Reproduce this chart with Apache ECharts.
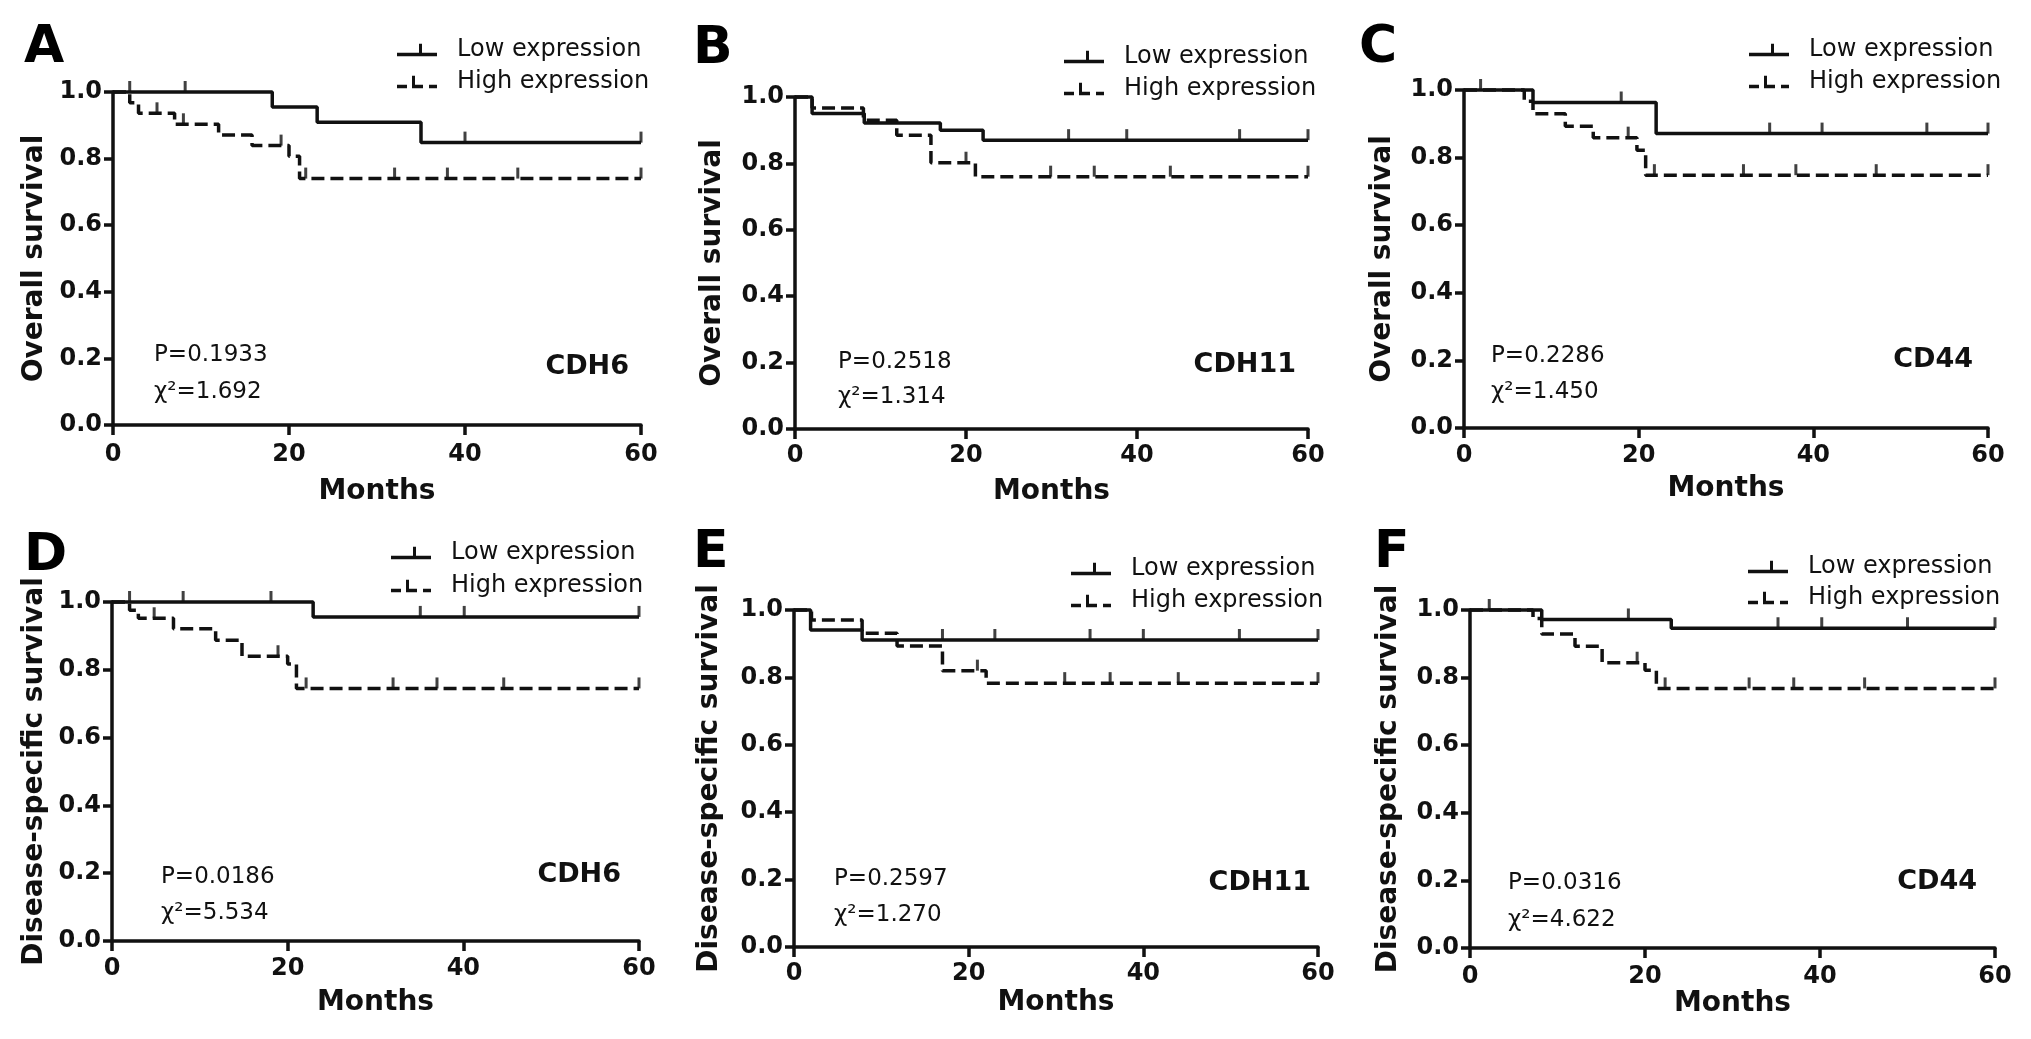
<!DOCTYPE html>
<html><head><meta charset="utf-8">
<script src="https://cdn.jsdelivr.net/npm/echarts@6/dist/echarts.min.js"></script>
<style>html,body{margin:0;padding:0;background:#fff}#chart{width:2031px;height:1039px}</style>
</head><body><div id="chart"></div>
<script>
// ---------- DATA ----------
const panelLetters = ['A', 'B', 'C', 'D', 'E', 'F'];
const geneNames = ['CDH6', 'CDH11', 'CD44', 'CDH6', 'CDH11', 'CD44'];
const yAxisTitles = ['Overall survival', 'Overall survival', 'Overall survival',
  'Disease-specific survival', 'Disease-specific survival', 'Disease-specific survival'];
const xAxisTitle = 'Months';
const pTexts = ['P=0.1933', 'P=0.2518', 'P=0.2286', 'P=0.0186', 'P=0.2597', 'P=0.0316'];
const chiTexts = ['χ²=1.692', 'χ²=1.314', 'χ²=1.450', 'χ²=5.534', 'χ²=1.270', 'χ²=4.622'];
const seriesNames = ['Low expression', 'High expression'];
const xTicks = [0, 20, 40, 60];
const yTicks = [0, 0.2, 0.4, 0.6, 0.8, 1.0];

// Kaplan-Meier curves: [month, survival] at each step
const lowA = [[0, 1], [18.1, 0.955], [23.2, 0.909], [35, 0.848], [60, 0.848]];
const highA = [[0, 1], [1.9, 0.968], [2.9, 0.936], [7, 0.903], [12, 0.871], [15.8, 0.839], [20, 0.807], [21.2, 0.74], [60, 0.74]];
const lowCensA = [1.9, 8.2, 40, 60];
const highCensA = [5, 8, 19.1, 21.9, 32, 38, 46, 60];

const lowB = [[0, 1], [2, 0.95], [8.1, 0.922], [17, 0.90], [22, 0.87], [60, 0.87]];
const highB = [[0, 1], [2, 0.967], [8, 0.93], [11.9, 0.885], [15.9, 0.802], [21.1, 0.76], [60, 0.76]];
const lowCensB = [32, 38.8, 52, 60];
const highCensB = [20, 29.9, 35, 43.9, 60];

const lowC = [[0, 1], [7.9, 0.963], [22, 0.871], [60, 0.871]];
const highC = [[0, 1], [6.9, 0.967], [7.9, 0.93], [11.6, 0.893], [14.8, 0.859], [19.8, 0.822], [20.8, 0.748], [60, 0.748]];
const lowCensC = [1.9, 18, 35, 41, 53, 60];
const highCensC = [18.8, 21.8, 32, 38, 47.2, 60];

const lowD = [[0, 1], [22.9, 0.956], [60, 0.956]];
const highD = [[0, 1], [2, 0.976], [3, 0.952], [7, 0.921], [11.8, 0.887], [14.8, 0.84], [20, 0.817], [21, 0.745], [60, 0.745]];
const lowCensD = [2, 8.1, 18.1, 35.1, 40.1, 60];
const highCensD = [4.8, 18.9, 22.1, 32, 37, 44.6, 60];

const lowE = [[0, 1], [1.9, 0.941], [7.8, 0.911], [60, 0.911]];
const highE = [[0, 1], [2, 0.97], [7.8, 0.931], [11.8, 0.893], [17, 0.82], [22, 0.783], [60, 0.783]];
const lowCensE = [17, 23, 33.9, 40, 51, 60];
const highCensE = [21, 31, 36.2, 44, 60];

const lowF = [[0, 1], [8.2, 0.972], [23, 0.946], [60, 0.946]];
const highF = [[0, 1], [7.2, 0.975], [8.2, 0.929], [12, 0.893], [15.1, 0.844], [20, 0.822], [21.3, 0.768], [60, 0.768]];
const lowCensF = [2.2, 18.1, 35.2, 40.2, 50, 60];
const highCensF = [19.1, 22.3, 31.9, 37, 45.1, 60];

const lowCurves = [lowA, lowB, lowC, lowD, lowE, lowF];
const highCurves = [highA, highB, highC, highD, highE, highF];
const lowCensors = [lowCensA, lowCensB, lowCensC, lowCensD, lowCensE, lowCensF];
const highCensors = [highCensA, highCensB, highCensC, highCensD, highCensE, highCensF];

// ---------- LAYOUT (pixels) ----------
const layout = [
  { grid: [113, 92, 528, 333], legend: [397, 38, 8], yGap: 64, xGap: 53, xMargin: 18, letter: [24, 47], stat: [154, 355, 392], gene: [629, 367] },
  { grid: [795, 97, 513, 332], legend: [1064, 45, 8], yGap: 68, xGap: 49, xMargin: 15, letter: [693, 48], stat: [838, 362, 397], gene: [1296, 365] },
  { grid: [1464, 90, 524, 338], legend: [1749, 38, 8], yGap: 67, xGap: 47, xMargin: 16, letter: [1359, 47], stat: [1491, 356, 392], gene: [1973, 360] },
  { grid: [112, 602, 527, 339], legend: [391, 541, 9], yGap: 63, xGap: 48, xMargin: 16, letter: [24, 555], stat: [161, 877, 913], gene: [621, 875] },
  { grid: [794, 610, 524, 337], legend: [1071, 557, 8], yGap: 70, xGap: 42, xMargin: 15, letter: [693, 552], stat: [834, 879, 915], gene: [1311, 883] },
  { grid: [1470, 610, 525, 338], legend: [1748, 555, 7], yGap: 67, xGap: 41, xMargin: 17, letter: [1374, 552], stat: [1508, 883, 920], gene: [1977, 882] }
];

const INK = '#111';
const FONT = 'DejaVu Sans';
const LW = 3.5;
const lowIcon = 'path://M0,9H40V12.5H0Z M22,0H25V9H22Z';
const highIcon = 'path://M0,9H10V12.5H0Z M15,9H26V12.5H15Z M15,0H18V9H15Z M32,9H40V12.5H32Z';

function survivalAt(curve, t) {
  let v = curve[0][1];
  for (const [x, y] of curve) { if (x <= t) v = y; }
  return v;
}

const grids = [], xAxes = [], yAxes = [], series = [], legends = [], graphics = [];
layout.forEach((L, i) => {
  grids.push({ left: L.grid[0], top: L.grid[1], width: L.grid[2], height: L.grid[3], containLabel: false });
  xAxes.push({
    gridIndex: i, type: 'value', min: xTicks[0], max: xTicks[xTicks.length - 1], interval: xTicks[1] - xTicks[0],
    name: xAxisTitle, nameLocation: 'middle', nameGap: L.xGap,
    nameTextStyle: { fontFamily: FONT, fontWeight: 'bold', fontSize: 28, color: INK },
    axisLine: { show: true, lineStyle: { color: INK, width: LW } },
    axisTick: { show: true, inside: false, length: 10, lineStyle: { color: INK, width: LW } },
    axisLabel: { margin: L.xMargin, fontFamily: FONT, fontWeight: 'bold', fontSize: 24, color: INK },
    splitLine: { show: false }
  });
  yAxes.push({
    gridIndex: i, type: 'value', min: yTicks[0], max: yTicks[yTicks.length - 1], interval: yTicks[1] - yTicks[0],
    name: yAxisTitles[i], nameLocation: 'middle', nameGap: L.yGap, nameRotate: 90,
    nameTextStyle: { fontFamily: FONT, fontWeight: 'bold', fontSize: 28, color: INK },
    axisLine: { show: true, lineStyle: { color: INK, width: LW } },
    axisTick: { show: true, inside: false, length: 9, lineStyle: { color: INK, width: LW } },
    axisLabel: { margin: 11, fontFamily: FONT, fontWeight: 'bold', fontSize: 24, color: INK, formatter: v => v.toFixed(1) },
    splitLine: { show: false }
  });
  series.push({
    name: seriesNames[0], type: 'line', xAxisIndex: i, yAxisIndex: i, step: 'end', data: lowCurves[i],
    symbol: 'none', clip: false, silent: true, animation: false,
    lineStyle: { color: INK, width: LW }, itemStyle: { color: INK }, z: 3
  });
  series.push({
    name: seriesNames[1], type: 'line', xAxisIndex: i, yAxisIndex: i, step: 'end', data: highCurves[i],
    symbol: 'none', clip: false, silent: true, animation: false,
    lineStyle: { color: INK, width: LW, type: [13, 6] }, itemStyle: { color: INK }, z: 2
  });
  series.push({
    name: 'Low censored', type: 'scatter', xAxisIndex: i, yAxisIndex: i,
    data: lowCensors[i].map(t => [t, survivalAt(lowCurves[i], t)]),
    symbol: 'rect', symbolSize: [3, 11], symbolOffset: [0, '-50%'], clip: false, silent: true, animation: false,
    itemStyle: { color: INK }, z: 4
  });
  series.push({
    name: 'High censored', type: 'scatter', xAxisIndex: i, yAxisIndex: i,
    data: highCensors[i].map(t => [t, survivalAt(highCurves[i], t)]),
    symbol: 'rect', symbolSize: [3, 11], symbolOffset: [0, '-50%'], clip: false, silent: true, animation: false,
    itemStyle: { color: INK }, z: 4
  });
  legends.push({
    left: L.legend[0], top: L.legend[1], orient: 'vertical', itemGap: L.legend[2], padding: 0,
    itemWidth: 40, itemHeight: 12.5, selectedMode: false,
    itemStyle: { color: INK, borderWidth: 0 },
    textStyle: { fontFamily: FONT, fontSize: 24, color: INK, lineHeight: 24, padding: [0, 0, 0, 15] },
    data: [{ name: seriesNames[0], icon: lowIcon }, { name: seriesNames[1], icon: highIcon }]
  });
  graphics.push({
    type: 'text', left: L.letter[0], top: L.letter[1] - 25,
    style: { text: panelLetters[i], font: 'bold 52px "DejaVu Sans"', fill: '#000' }
  });
  graphics.push({
    type: 'text', x: L.stat[0], y: L.stat[1],
    style: { text: pTexts[i], font: '23px "DejaVu Sans"', fill: INK, textVerticalAlign: 'middle' }
  });
  graphics.push({
    type: 'text', x: L.stat[0], y: L.stat[2],
    style: { text: chiTexts[i], font: '23px "DejaVu Sans"', fill: INK, textVerticalAlign: 'middle' }
  });
  graphics.push({
    type: 'text', x: L.gene[0], y: L.gene[1],
    style: { text: geneNames[i], font: 'bold 27px "DejaVu Sans"', fill: INK, textAlign: 'right', textVerticalAlign: 'middle' }
  });
});

const chart = echarts.init(document.getElementById('chart'), null, { renderer: 'canvas' });
chart.setOption({
  backgroundColor: '#fff',
  animation: false,
  grid: grids, xAxis: xAxes, yAxis: yAxes, series: series, legend: legends,
  graphic: graphics
});
</script></body></html>
